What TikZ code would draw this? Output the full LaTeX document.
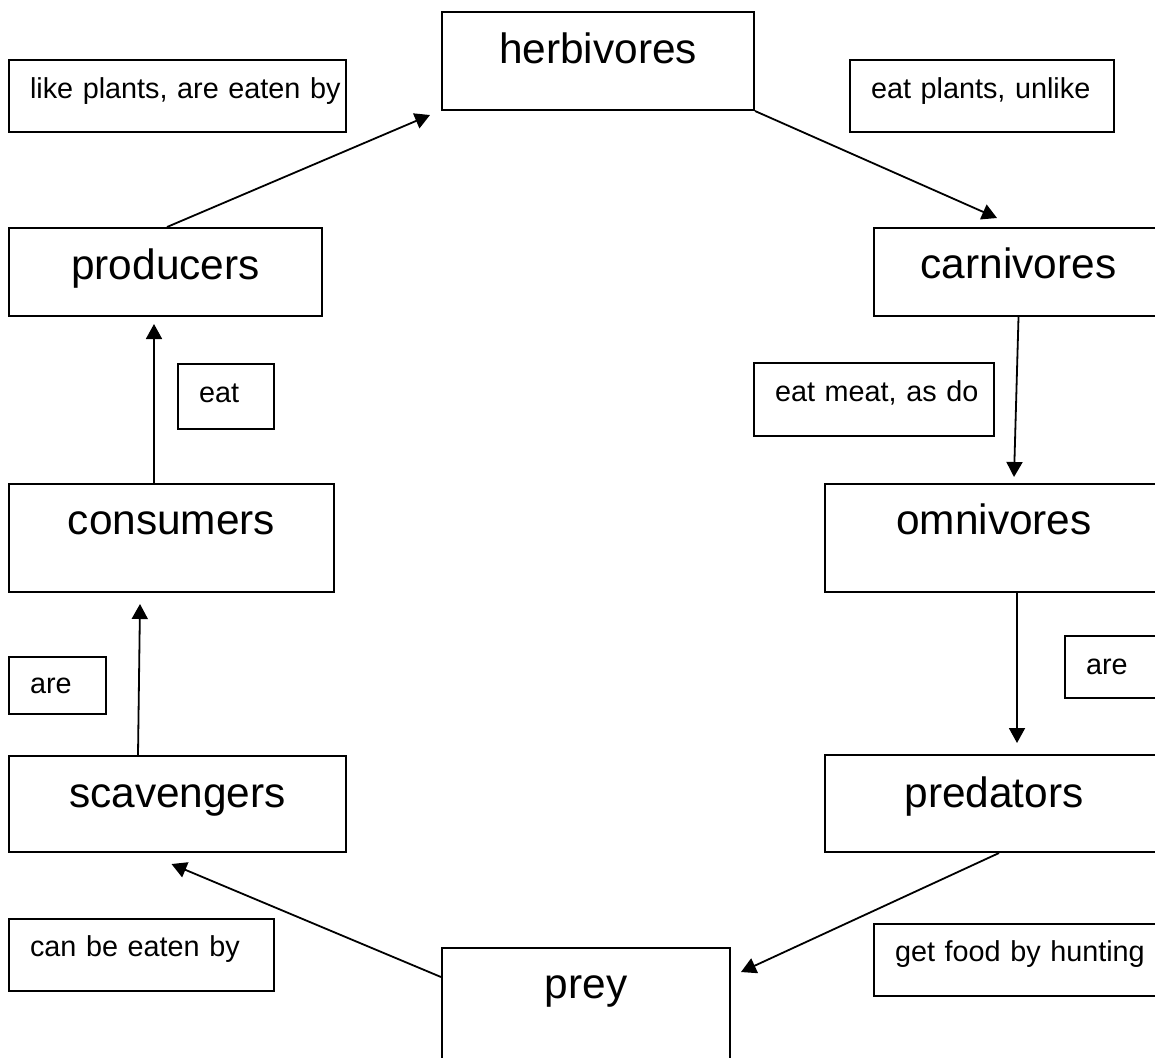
\documentclass[tikz,border=0pt]{standalone}
\usepackage{fontspec}
\setmainfont{Liberation Sans}
\usetikzlibrary{calc,arrows.meta}
\hfuzz=\maxdimen
\hbadness=10000
\begin{document}
\begin{tikzpicture}[x=0.5pt,y=-0.5pt,
  bigbox/.style={draw,line width=1pt,anchor=north west,inner sep=0pt,
    font=\fontsize{21.2pt}{25pt}\selectfont},
  smallbox/.style={draw,line width=1pt,anchor=north west,inner ysep=0pt,
    inner xsep=10.5pt,align=left,font=\fontsize{14.4pt}{17pt}\selectfont},
  arr/.style={line width=0.9pt,-{Triangle[length=7.5pt,width=8pt]}}]
\useasboundingbox (0,0) rectangle (1155,1057);
\clip (0,0) rectangle (1155,1057);

% concept boxes
\node[bigbox,minimum width=156pt,text height=25.5pt,text depth=23.5pt] (herb) at (441,11) {herbivores};
\node[bigbox,minimum width=156.5pt,text height=25.5pt,text depth=18.5pt] (prod) at (8,227) {producers};
\node[bigbox,minimum width=144.5pt,text height=25pt,text depth=19pt] (carn) at (873,227) {carnivores};
\node[bigbox,minimum width=162.5pt,text height=25pt,text depth=29pt] (cons) at (8,483) {consumers};
\node[bigbox,minimum width=169pt,text height=25pt,text depth=29pt] (omni) at (824,483) {omnivores};
\node[bigbox,minimum width=168.5pt,text height=25.5pt,text depth=22.5pt] (scav) at (8,755) {scavengers};
\node[bigbox,minimum width=169pt,text height=26pt,text depth=22.5pt] (pred) at (824,754) {predators};
\node[bigbox,minimum width=144pt,text height=25pt,text depth=46.5pt] (prey) at (441,947) {prey};

% linking phrases
\node[smallbox,text width=147.5pt,text height=19pt,text depth=17pt] (l1) at (8,59) {\mbox{like plants, are eaten by}};
\node[smallbox,text width=111pt,text height=19pt,text depth=17pt] (l2) at (849,59) {\mbox{eat plants, unlike}};
\node[smallbox,text width=27pt,text height=19pt,text depth=13.5pt] (l3) at (177,363) {\mbox{eat}};
\node[smallbox,text width=99pt,text height=19pt,text depth=17.5pt] (l4) at (753,362) {\mbox{eat meat, as do}};
\node[smallbox,text width=27.5pt,text height=18pt,text depth=10.5pt] (l5) at (8,656) {\mbox{are}};
\node[smallbox,text width=29pt,text height=19pt,text depth=12pt] (l6) at (1064,635) {\mbox{are}};
\node[smallbox,text width=111.5pt,text height=18.5pt,text depth=17.5pt] (l7) at (8,918) {\mbox{can be eaten by}};
\node[smallbox,text width=124pt,text height=18.5pt,text depth=17.5pt] (l8) at (873,923) {\mbox{get food by hunting}};

% links
\draw[arr] ($(prod.north)+(1.5,0)$) -- ($(herb.south west)+(-11,4)$);
\draw[arr] (herb.south east) -- ($(carn.north west)+(124,-9)$);
\draw[arr] (carn.south) -- ($(omni.north)+(20,-6)$);
\draw[arr] ($(omni.south)+(23,0)$) -- ($(pred.north)+(23,-11)$);
\draw[arr] ($(pred.south)+(5,0)$) -- ($(prey.north east)+(10,25)$);
\draw[arr] ($(prey.north west)+(0,30)$) -- ($(scav.south)+(-6,11)$);
\draw[arr] ($(scav.north)+(-39.5,0)$) -- ($(cons.south)+(-31.5,11)$);
\draw[arr] ($(cons.north)+(-17.5,0)$) -- ($(prod.south)+(-11.5,7)$);
\end{tikzpicture}
\end{document}
